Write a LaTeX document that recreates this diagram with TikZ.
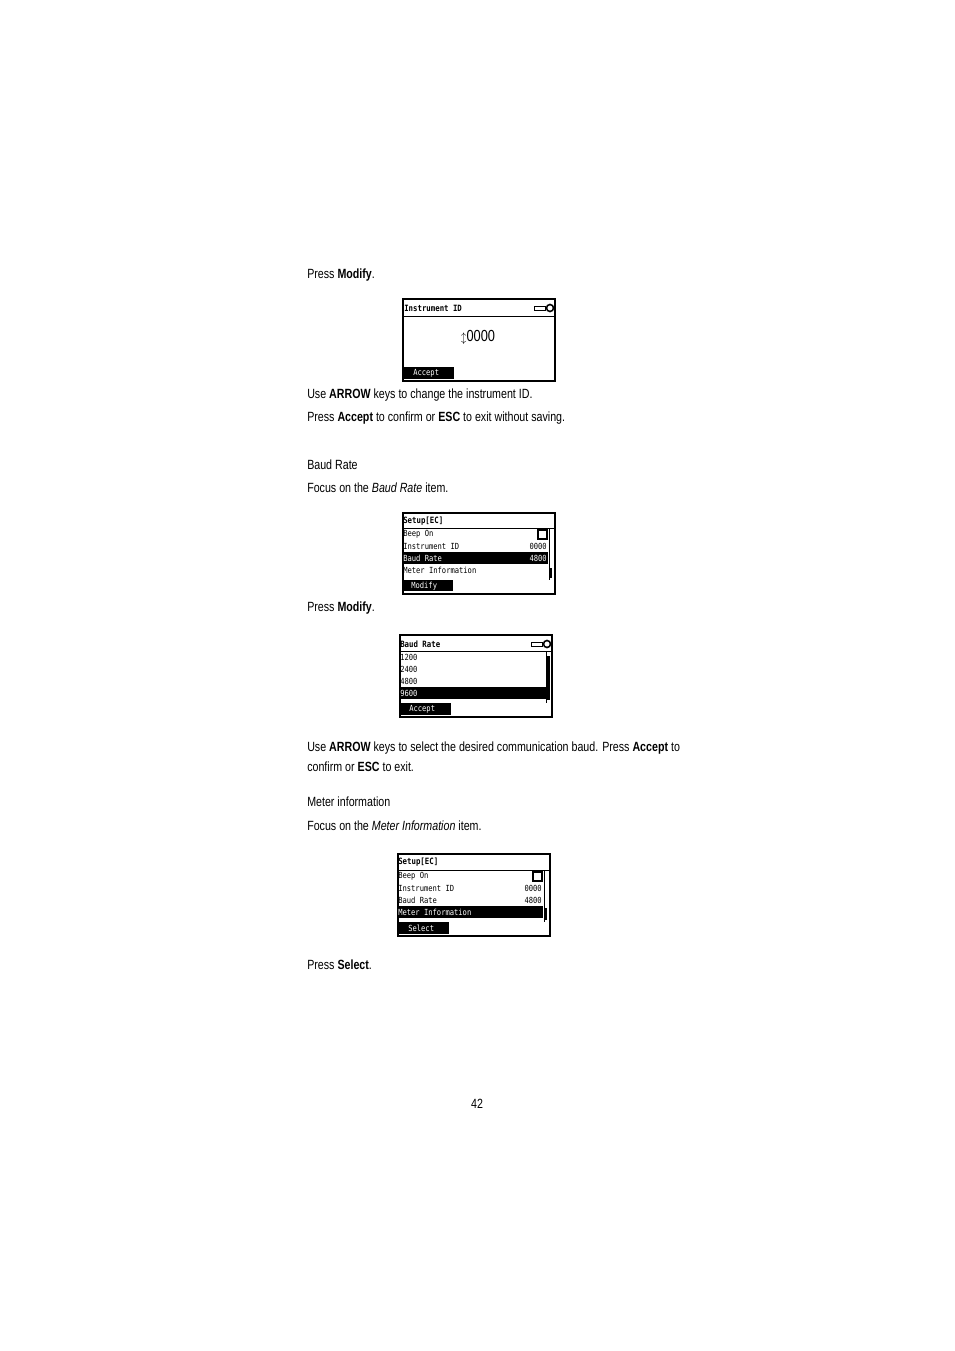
\documentclass[tikz,border=0pt]{standalone}
\usepackage{fontspec}
\setmainfont[FakeStretch=0.8]{Liberation Sans}
\newfontfamily\lcd[FakeStretch=0.85]{DejaVu Sans Mono}
\begin{document}
\begin{tikzpicture}[x=0.75pt,y=-0.75pt,
  txt/.style={anchor=west,inner sep=0,font=\fontsize{10}{12}\selectfont},
  scr/.style={draw,line width=0.8pt},
  lcdt/.style={anchor=west,inner sep=0,font=\lcd\fontsize{6.3}{7}\selectfont},
  lcdb/.style={anchor=west,inner sep=0,font=\lcd\bfseries\fontsize{6.5}{7}\selectfont},
  bar/.style={fill=black}]
\useasboundingbox (0,0) rectangle (954,1351);
% texts
\node[txt] (t1) at (307,275) {Press \textbf{Modify}.};
\node[txt] (t2) at (307,395) {Use \textbf{ARROW} keys to change the instrument ID.};
\node[txt] (t3) at (307,418) {Press \textbf{Accept} to confirm or \textbf{ESC} to exit without saving.};
\node[txt] (t4) at (307,465) {Baud Rate};
\node[txt] (t5) at (307,488) {Focus on the \textit{Baud Rate} item.};
\node[txt] (t6) at (307,608) {Press \textbf{Modify}.};
\node[txt] (t7) at (307,748) {Use \textbf{ARROW} keys to select the desired communication baud. Press \textbf{Accept} to};
\node[txt] (t8) at (307,767) {confirm or \textbf{ESC} to exit.};
\node[txt] (t9) at (307,802) {Meter information};
\node[txt] (t10) at (307,826) {Focus on the \textit{Meter Information} item.};
\node[txt] (t11) at (307,965) {Press \textbf{Select}.};
\node[inner sep=0,font=\fontsize{10}{12}\selectfont] (pg) at (477,1104) {42};
% screen 1
\draw[scr] (403,299) rectangle (555,381);
\draw (403,316) -- (555,316);
\node[lcdb] (s1t) at (404,308) {Instrument ID};
\draw (534,306) rectangle (545,310);
\draw[line width=1.2pt] (550,308) circle (3.5);
\node[inner sep=0,font=\fontsize{12}{14}\selectfont] (s1v) at (478,337) {\scalebox{0.7}{$\updownarrow$}0000};
\fill[bar] (403,367) rectangle (454,379);
\node[lcdt,text=white] (s1a) at (413,373) {Accept};
% screen 2
\draw[scr] (403,513) rectangle (555,594);
\draw (403,528) -- (555,528);
\node[lcdb] at (403,521) {Setup[EC]};
\node[lcdt] at (403,534) {Beep On};
\draw[line width=0.8pt] (538,530) rectangle (547,539);
\node[lcdt] at (403,546) {Instrument ID};
\node[lcdt,anchor=east] at (547,546) {0000};
\fill[bar] (403,552) rectangle (548,564);
\node[lcdt,text=white] at (403,558) {Baud Rate};
\node[lcdt,text=white,anchor=east] at (547,558) {4800};
\node[lcdt] at (403,570) {Meter Information};
\draw (549,528) -- (549,580);
\fill (550,568) rectangle (552,578);
\fill[bar] (403,580) rectangle (453,591);
\node[lcdt,text=white] at (411,586) {Modify};
% screen 3
\draw[scr] (400,635) rectangle (552,717);
\draw (400,651) -- (552,651);
\node[lcdb] at (400,644) {Baud Rate};
\draw (531,642) rectangle (542,646);
\draw[line width=1.2pt] (547,644) circle (3.5);
\node[lcdt] at (400,657) {1200};
\node[lcdt] at (400,669) {2400};
\node[lcdt] at (400,681) {4800};
\fill[bar] (400,687) rectangle (546,699);
\node[lcdt,text=white] at (400,693) {9600};
\draw (546,651) -- (546,703);
\fill (547,656) rectangle (550,700);
\fill[bar] (400,703) rectangle (451,715);
\node[lcdt,text=white] at (409,709) {Accept};
% screen 4
\draw[scr] (398,854) rectangle (550,936);
\draw (398,870) -- (550,870);
\node[lcdb] at (398,862) {Setup[EC]};
\node[lcdt] at (398,876) {Beep On};
\draw[line width=0.8pt] (533,872) rectangle (542,881);
\node[lcdt] at (398,888) {Instrument ID};
\node[lcdt,anchor=east] at (542,888) {0000};
\node[lcdt] at (398,900) {Baud Rate};
\node[lcdt,anchor=east] at (542,900) {4800};
\fill[bar] (398,906) rectangle (543,918);
\node[lcdt,text=white] at (398,912) {Meter Information};
\draw (544,870) -- (544,922);
\fill (545,908) rectangle (547,920);
\fill[bar] (398,922) rectangle (449,934);
\node[lcdt,text=white] at (408,928) {Select};
\end{tikzpicture}
\end{document}
